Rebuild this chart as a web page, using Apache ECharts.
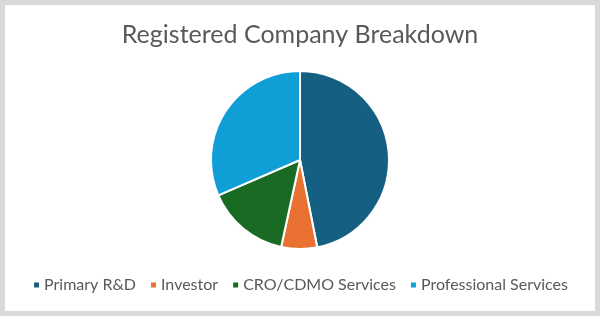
<!DOCTYPE html>
<html>
<head>
<meta charset="utf-8">
<script src="https://cdn.jsdelivr.net/npm/echarts@6/dist/echarts.min.js"></script>
<style>
html,body{margin:0;padding:0;background:#fff;}
#c{width:600px;height:316px;}
</style>
</head>
<body>
<div id="c"></div>
<script>
const categories = ["Primary R&D", "Investor", "CRO/CDMO Services", "Professional Services"];
const values = [46.9, 6.5, 15.1, 31.5];
const colors = ["#156082", "#E97132", "#196B24", "#0F9ED5"];
const titleText = "Registered Company Breakdown";

const chart = echarts.init(document.getElementById('c'), null, {renderer: 'canvas'});
chart.setOption({
  animation: false,
  backgroundColor: '#ffffff',
  graphic: [{
    type: 'rect',
    shape: {x: 2.5, y: 2.5, width: 595, height: 311},
    style: {fill: 'none', stroke: '#d9d9d9', lineWidth: 5},
    z: 100
  }],
  title: {
    text: titleText,
    left: 'center',
    top: 17,
    textStyle: {fontFamily: 'Lato', fontWeight: 'normal', fontSize: 25, color: '#595959'}
  },
  legend: {
    data: categories,
    bottom: 18,
    left: 'center',
    icon: 'rect',
    itemWidth: 7,
    itemHeight: 7,
    itemGap: 13,
    textStyle: {fontFamily: 'Lato', fontSize: 16, color: '#595959', padding: [0,0,0,-1]}
  },
  series: [{
    type: 'pie',
    center: [300, 160],
    radius: 89,
    startAngle: 90,
    clockwise: true,
    label: {show: false},
    labelLine: {show: false},
    emphasis: {disabled: true},
    itemStyle: {borderColor: '#ffffff', borderWidth: 2},
    data: categories.map((name, i) => ({name, value: values[i], itemStyle: {color: colors[i]}}))
  }]
});
</script>
</body>
</html>
